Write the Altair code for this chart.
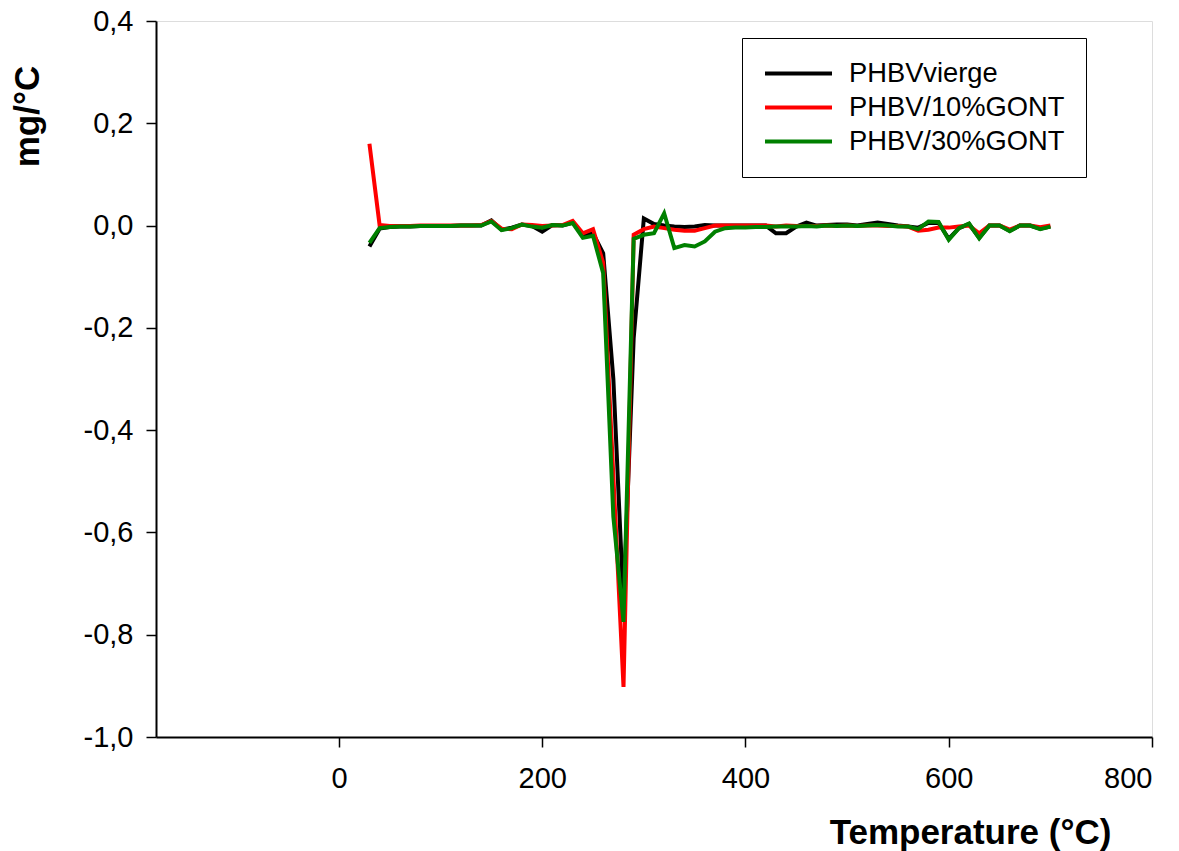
import altair as alt
import pandas as pd

temperature = list(range(30, 701, 10))

phbv_vierge = [
    -0.041, -0.006, -0.003, -0.002, -0.002, -0.001, -0.001, -0.001, -0.001, 0.000,
    0.000, 0.000, 0.010, -0.008, -0.004, 0.002, -0.001, -0.012, 0.001, 0.000,
    0.006, -0.020, -0.015, -0.054, -0.300, -0.740, -0.220, 0.014, 0.003, 0.000,
    -0.002, -0.003, -0.002, 0.001, 0.000, 0.000, 0.000, 0.000, 0.000, 0.000,
    -0.015, -0.015, -0.002, 0.006, 0.000, 0.001, 0.002, 0.002, 0.000, 0.003,
    0.006, 0.003, 0.000, -0.002, -0.004, 0.005, 0.005, -0.026, -0.005, 0.003,
    -0.024, 0.000, 0.000, -0.010, 0.000, 0.000, -0.006, -0.002,
]

phbv_10 = [
    0.160, 0.001, -0.001, -0.001, -0.001, 0.000, 0.000, 0.000, 0.000, 0.000,
    0.000, 0.001, 0.009, -0.006, -0.007, 0.002, 0.001, -0.001, 0.000, 0.001,
    0.009, -0.015, -0.007, -0.073, -0.490, -0.902, -0.018, -0.007, -0.002, -0.005,
    -0.008, -0.010, -0.010, -0.005, 0.000, 0.000, 0.000, 0.000, 0.000, 0.000,
    -0.002, 0.000, -0.001, -0.001, -0.001, 0.000, -0.001, 0.000, -0.001, 0.000,
    0.000, -0.001, -0.001, -0.002, -0.010, -0.008, -0.004, -0.004, -0.002, 0.000,
    -0.015, 0.000, 0.000, -0.008, 0.000, 0.000, -0.003, 0.000,
]

phbv_30 = [
    -0.034, -0.005, -0.003, -0.002, -0.002, -0.001, -0.001, -0.001, -0.001, 0.000,
    0.000, 0.000, 0.008, -0.009, -0.005, 0.002, -0.002, -0.004, 0.001, 0.000,
    0.005, -0.024, -0.020, -0.093, -0.569, -0.775, -0.026, -0.018, -0.015, 0.024,
    -0.044, -0.038, -0.041, -0.031, -0.012, -0.005, -0.004, -0.004, -0.003, -0.003,
    -0.002, -0.002, -0.002, -0.001, -0.002, 0.000, -0.001, 0.000, -0.001, 0.000,
    0.001, 0.000, -0.002, -0.002, -0.007, 0.008, 0.007, -0.028, -0.005, 0.004,
    -0.025, 0.000, 0.000, -0.011, 0.000, 0.000, -0.007, -0.002,
]

series_names = ["PHBVvierge", "PHBV/10%GONT", "PHBV/30%GONT"]
series_colors = ["#000000", "#ff0000", "#008000"]
x_ticks = [0, 200, 400, 600, 800]
y_ticks = [-1.0, -0.8, -0.6, -0.4, -0.2, 0.0, 0.2, 0.4]

rows = []
for order, (name, vals) in enumerate(zip(series_names, [phbv_vierge, phbv_10, phbv_30])):
    for t, v in zip(temperature, vals):
        rows.append({"T": t, "v": v, "serie": name, "ord": order})
df = pd.DataFrame(rows)

FONT = "Liberation Sans"

chart = alt.Chart(df).mark_line(strokeWidth=4, strokeJoin="miter", strokeMiterLimit=10).encode(
    x=alt.X("T:Q", scale=alt.Scale(domain=[-180, 800], nice=False, zero=False),
            axis=alt.Axis(title="Temperature (°C)", values=x_ticks, grid=False,
                          labelFontSize=29, labelFont=FONT, labelColor="#000000",
                          labelPadding=17, tickSize=10, tickWidth=1.5, tickColor="#000000",
                          domainColor="#000000", domainWidth=2,
                          titleFont=FONT, titleFontSize=35, titleFontWeight="bold",
                          titleColor="#000000", titleX=814, titleY=106,
                          titleAlign="center", titleBaseline="alphabetic")),
    y=alt.Y("v:Q", scale=alt.Scale(domain=[-1.0, 0.4], nice=False, zero=False),
            axis=alt.Axis(title="mg/°C", values=y_ticks, grid=False,
                          labelExpr="(datum.value < -0.00001 ? '-' : '') + replace(format(abs(datum.value), '.1f'), '.', ',')",
                          labelFontSize=29, labelFont=FONT, labelColor="#000000",
                          labelPadding=13, tickSize=10, tickWidth=1.5, tickColor="#000000",
                          domainColor="#000000", domainWidth=2,
                          titleFont=FONT, titleFontSize=35, titleFontWeight="bold",
                          titleColor="#000000", titleX=-118, titleY=95, titleAngle=270,
                          titleAlign="center", titleBaseline="alphabetic")),
    color=alt.Color("serie:N",
                    scale=alt.Scale(domain=series_names, range=series_colors),
                    legend=alt.Legend(title=None, orient="none", legendX=586, legendY=17,
                                      strokeColor="#000000", fillColor="#ffffff",
                                      padding=21, cornerRadius=0,
                                      symbolType="stroke", symbolSize=4489,
                                      symbolStrokeWidth=4, labelFont=FONT,
                                      labelFontSize=27.3, labelColor="#000000",
                                      labelOffset=15, labelLimit=0,
                                      clipHeight=29, rowPadding=5)),
    order=alt.Order("ord:Q"),
    detail="serie:N",
).properties(
    width=996, height=716,
    autosize=alt.AutoSizeParams(type="none"),
    padding={"left": 156, "top": 21, "right": 27, "bottom": 114},
).configure_view(stroke=None).configure(background="#ffffff")

chart.save("out.html", embed_options={"renderer": "svg", "actions": False})
